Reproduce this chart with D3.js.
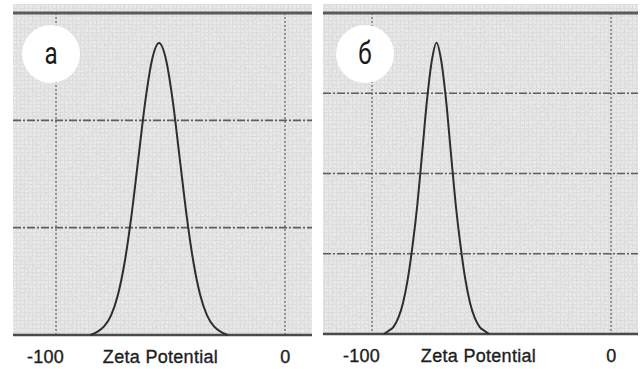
<!DOCTYPE html>
<html>
<head>
  <meta charset="utf-8">
  <title>Zeta Potential</title>
  <style>
   html, body { margin: 0; padding: 0; background: #fff; }
   svg { display: block; }
   .lbl { font-family: "Liberation Sans", Arial, sans-serif; font-size: 18px; fill: #1e1e1e; stroke: #1e1e1e; stroke-width: 0.35px; letter-spacing: 0.3px; }
   .letter { font-family: Roboto, "DejaVu Sans", sans-serif; font-size: 31px; fill: #1a1a1a; }
  </style>
</head>
<body>
<div id="chart"></div>
<script src="https://d3js.org/d3.v7.min.js"></script>
<script>
// values
var zetaTicks = [-100, 0];
var axisTitle = "Zeta Potential";
var panelLetters = ["а", "б"];

// panel a
var zetaA  = [-85, -82, -79, -76, -73, -70, -67, -64, -61, -58, -55, -52, -49, -46, -43, -40, -37, -34, -31, -28, -25];
var countA = [0, 0.03, 0.08, 0.18, 0.37, 0.68, 1.12, 1.65, 2.18, 2.57, 2.72, 2.57, 2.18, 1.65, 1.12, 0.68, 0.37, 0.18, 0.08, 0.03, 0];
var gridA  = [1, 2];
var yMaxA  = 3;

// panel b
var zetaB  = [-95, -93, -91, -89, -87, -85, -83, -81, -79, -77, -75, -73, -71, -69, -67, -65, -63, -61, -59, -57, -55, -53, -51];
var countB = [0, 0.04, 0.09, 0.20, 0.39, 0.69, 1.11, 1.62, 2.26, 2.91, 3.40, 3.63, 3.40, 2.91, 2.26, 1.62, 1.11, 0.69, 0.39, 0.20, 0.09, 0.04, 0];
var gridB  = [1, 2, 3];
var yMaxB  = 4;

var width = 640, height = 369;

var svg = d3.select("#chart").append("svg")
  .attr("width", width)
  .attr("height", height);

var defs = svg.append("defs");

// faint graph-paper grid
var pat = defs.append("pattern")
  .attr("id", "paper")
  .attr("width", 4).attr("height", 4)
  .attr("patternUnits", "userSpaceOnUse");
pat.append("rect").attr("width", 4).attr("height", 4).attr("fill", "#ebebeb");
pat.append("path").attr("d", "M0,0.5H4M0.5,0V4")
  .attr("stroke", "#e0e0e0").attr("stroke-width", 1);

// photocopy grain
var grain = defs.append("filter").attr("id", "grain")
  .attr("x", 0).attr("y", 0).attr("width", 1).attr("height", 1);
grain.append("feTurbulence")
  .attr("type", "fractalNoise")
  .attr("baseFrequency", 0.55)
  .attr("numOctaves", 2)
  .attr("seed", 4);
grain.append("feColorMatrix")
  .attr("type", "matrix")
  .attr("values", "0 0 0 0 0.6  0 0 0 0 0.6  0 0 0 0 0.6  1.6 0 0 0 -0.62");

function drawPanel(p) {
  var g = svg.append("g");

  var x = d3.scaleLinear().domain([-100, 0]).range(p.xr);
  var y = d3.scaleLinear().domain([0, p.yMax]).range([p.bottom, p.top]);

  // background
  g.append("rect")
    .attr("x", p.left).attr("y", p.top - 9)
    .attr("width", p.right - p.left).attr("height", p.bottom - p.top + 9)
    .attr("fill", "url(#paper)");
  g.append("rect")
    .attr("x", p.left).attr("y", p.top - 9)
    .attr("width", p.right - p.left).attr("height", p.bottom - p.top + 9)
    .attr("filter", "url(#grain)")
    .attr("opacity", 0.7);

  // vertical grid
  g.selectAll(".vg").data(zetaTicks).enter().append("line")
    .attr("class", "vg")
    .attr("x1", function(d) { return x(d); })
    .attr("x2", function(d) { return x(d); })
    .attr("y1", p.top).attr("y2", p.bottom)
    .attr("stroke", "#7a7a7a")
    .attr("stroke-width", 1.5)
    .attr("stroke-dasharray", "2,2");

  // horizontal grid
  g.selectAll(".hg").data(p.grid).enter().append("line")
    .attr("class", "hg")
    .attr("x1", p.left).attr("x2", p.right)
    .attr("y1", function(d) { return y(d); })
    .attr("y2", function(d) { return y(d); })
    .attr("stroke", "#5e5e5e")
    .attr("stroke-width", 1.7)
    .attr("stroke-dasharray", "8,2,2,2");

  // top frame
  g.append("line")
    .attr("x1", p.left).attr("x2", p.right)
    .attr("y1", y(p.yMax)).attr("y2", y(p.yMax))
    .attr("stroke", "#5a5a5a").attr("stroke-width", 3);

  // baseline
  g.append("line")
    .attr("x1", p.left).attr("x2", p.right)
    .attr("y1", y(0)).attr("y2", y(0))
    .attr("stroke", "#4a4a4a").attr("stroke-width", 2.5);

  // curve
  var line = d3.line()
    .x(function(d) { return x(d[0]); })
    .y(function(d) { return y(d[1]); })
    .curve(d3.curveMonotoneX);
  g.append("path")
    .datum(d3.zip(p.zeta, p.count))
    .attr("d", line)
    .attr("fill", "none")
    .attr("stroke", "#2e2e2e")
    .attr("stroke-width", 2);

  // x axis labels
  var ax = g.append("g")
    .attr("transform", "translate(0," + p.bottom + ")")
    .call(d3.axisBottom(x).tickValues(zetaTicks).tickSize(0).tickPadding(0)
      .tickFormat(function(d) { return String(d); }));
  ax.select(".domain").remove();
  ax.selectAll("text")
    .attr("class", "lbl")
    .attr("y", 28)
    .attr("dy", 0)
    .attr("dx", function(d) { return d < 0 ? -11 : 0; });

  g.append("text")
    .attr("class", "lbl")
    .attr("x", (p.left + p.right) / 2 - 2)
    .attr("y", p.bottom + 28)
    .attr("text-anchor", "middle")
    .text(axisTitle);

  // panel letter badge
  g.append("circle")
    .attr("cx", p.badge[0]).attr("cy", p.badge[1])
    .attr("r", 29)
    .attr("fill", "#fff");
  g.append("text")
    .attr("class", "letter")
    .attr("transform", "translate(" + p.badge[0] + "," + (p.badge[1] + 10) + ") scale(0.78,1)")
    .attr("text-anchor", "middle")
    .text(p.letter);
}

drawPanel({
  left: 13, right: 312, top: 13, bottom: 335,
  xr: [56, 285], yMax: yMaxA, grid: gridA,
  zeta: zetaA, count: countA,
  badge: [51, 54], letter: panelLetters[0]
});

drawPanel({
  left: 323, right: 638, top: 13, bottom: 334,
  xr: [372, 611], yMax: yMaxB, grid: gridB,
  zeta: zetaB, count: countB,
  badge: [365, 54], letter: panelLetters[1]
});
</script>
</body>
</html>
